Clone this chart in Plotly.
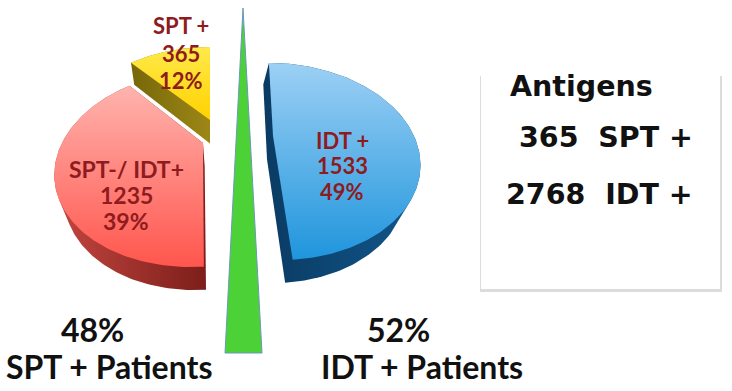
import numpy as np
import plotly.graph_objects as go

# ---------------- data ----------------
slice_labels = ["IDT +", "SPT-/ IDT+", "SPT +"]
slice_values = [1533, 1235, 365]
patient_labels = ["SPT + Patients", "IDT + Patients"]
patient_pct = [48, 52]
antigen_title = "Antigens"
antigen_labels = ["SPT +", "IDT +"]

total = sum(slice_values)
slice_pct = [round(100 * v / total) for v in slice_values]
antigen_counts = [slice_values[2], slice_values[0] + slice_values[1]]

# ---------------- styling / layout ----------------
W, H = 732, 391
F = 141.0      # pixel scale of the pie radius
SA, CA = 0.652, 0.758   # sin / cos of view elevation
DIST = 2.93    # camera distance (perspective)
THICK = 0.23   # pie thickness
START = 90.0   # start angle, slices run clockwise

# top colours listed [upper, lower]
slice_style = [
    dict(vx=273, vy=136, s=0.141, bdx=-5, top=["#9dd0f5", "#1f95dc"], wall=["#0a3b63", "#11568a"],
         lab_x=342, lab_y=[140.5, 165, 191], size=22),
    dict(vx=203, vy=143, s=-0.243, bdx=0, top=["#ffb3ae", "#ff564d"], wall=["#c4463f", "#7c1e1b"],
         lab_x=126, lab_y=[168.5, 195, 220.5], size=23),
    dict(vx=210, vy=120, s=0.0, bdx=0, top=["#ffe94a", "#ffd200"], wall=["#776709", "#9c8716"],
         lab_x=181, lab_y=[25.5, 53.5, 80], size=22),
]
LABEL_COLOR = "#8e1b1e"
PIE_FONT = "Lato"
BOX_FONT = "DejaVu Sans"


def proj(u, v, z, s):
    df = 1 + (v * CA - z * SA) / DIST
    x = F * ((u + s) / df - s)
    y = -F * (v * SA + z * CA) / df
    return x, y


def hull(px, py):
    pts = sorted(set(zip(np.round(px, 3), np.round(py, 3))))

    def cross(o, a, b):
        return (a[0] - o[0]) * (b[1] - o[1]) - (a[1] - o[1]) * (b[0] - o[0])

    lower, upper = [], []
    for p in pts:
        while len(lower) >= 2 and cross(lower[-2], lower[-1], p) <= 0:
            lower.pop()
        lower.append(p)
    for p in reversed(pts):
        while len(upper) >= 2 and cross(upper[-2], upper[-1], p) <= 0:
            upper.pop()
        upper.append(p)
    h = lower[:-1] + upper[:-1]
    h.append(h[0])
    return [p[0] for p in h], [p[1] for p in h]


fig = go.Figure()
annotations = []

a0 = START
for val, lab, pct, st in zip(slice_values, slice_labels, slice_pct, slice_style):
    span = 360.0 * val / total
    th = np.radians(np.linspace(a0, a0 - span, 140))
    a0 -= span
    u = np.concatenate([[0.0], np.cos(th)])
    v = np.concatenate([[0.0], np.sin(th)])
    tx, ty = proj(u, v, 0.0, st["s"])
    bx, by = proj(u, v, -THICK, st["s"])
    tx, ty = tx + st["vx"], ty + st["vy"]
    bx, by = bx + st["vx"] + st["bdx"], by + st["vy"]
    hx, hy = hull(np.concatenate([tx, bx]), np.concatenate([ty, by]))
    fig.add_trace(go.Scatter(
        x=hx, y=hy, mode="lines", fill="toself", line=dict(width=0),
        fillcolor=st["wall"][1],
        fillgradient=dict(type="horizontal", colorscale=[[0, st["wall"][0]], [1, st["wall"][1]]]),
        hoverinfo="skip", showlegend=False))
    fig.add_trace(go.Scatter(
        x=np.append(tx, tx[0]), y=np.append(ty, ty[0]), mode="lines", fill="toself",
        line=dict(width=0), fillcolor=st["top"][1],
        fillgradient=dict(type="vertical", colorscale=[[0, st["top"][1]], [1, st["top"][0]]]),
        hoverinfo="skip", showlegend=False, name=lab))
    for txt, yy in zip([lab, f"{val}", f"{pct}%"], st["lab_y"]):
        annotations.append(dict(
            x=st["lab_x"], y=yy, xref="x", yref="y", text=txt, showarrow=False,
            xanchor="center", yanchor="middle",
            font=dict(family=PIE_FONT, size=st["size"], color=LABEL_COLOR, weight="bold")))

# patient percentages under the pie
pat_pos = [dict(x_pct=92.5, x_lab=109), dict(x_pct=398, x_lab=421.5)]
for lab, pct, pp in zip(patient_labels, patient_pct, pat_pos):
    annotations.append(dict(x=pp["x_pct"], y=329, xref="x", yref="y", text=f"{pct}%",
                            showarrow=False, xanchor="center", yanchor="middle",
                            font=dict(family=PIE_FONT, size=32, color="#111111", weight="bold")))
    annotations.append(dict(x=pp["x_lab"], y=366.5, xref="x", yref="y", text=lab,
                            showarrow=False, xanchor="center", yanchor="middle",
                            font=dict(family=PIE_FONT, size=32, color="#111111", weight="bold")))

# antigen box text
box_lines = [(antigen_title, 508, 86),
             (f"{antigen_counts[0]}\u00a0\u00a0{antigen_labels[0]}", 517, 137.5),
             (f"{antigen_counts[1]}\u00a0\u00a0{antigen_labels[1]}", 504, 194)]
for txt, xx, yy in box_lines:
    annotations.append(dict(x=xx, y=yy, xref="x", yref="y", text=txt, showarrow=False,
                            xanchor="left", yanchor="middle",
                            font=dict(family=BOX_FONT, size=28.5, color="#111111", weight="bold")))

shapes = [
    # green divider wedge
    dict(type="path", path="M243,8 L262,353 L225,353 Z", xref="x", yref="y",
         fillcolor="#4cd236", line=dict(color="#6a98bd", width=1), layer="above"),
    # box shadow + box
    dict(type="rect", x0=480, x1=722, y0=76, y1=292, xref="x", yref="y",
         fillcolor="#dcdcdc", line=dict(width=0), layer="below"),
    dict(type="rect", x0=481, x1=720, y0=72, y1=289, xref="x", yref="y",
         fillcolor="#ffffff", line=dict(width=0), layer="below"),
]

fig.update_layout(
    width=W, height=H, margin=dict(l=0, r=0, t=0, b=0),
    paper_bgcolor="white", plot_bgcolor="white",
    xaxis=dict(range=[0, W], visible=False, fixedrange=True),
    yaxis=dict(range=[H, 0], visible=False, fixedrange=True),
    annotations=annotations, shapes=shapes, showlegend=False,
)

fig.write_html("out.html", config={"displayModeBar": False},
               post_script="document.body.style.margin='0';")
